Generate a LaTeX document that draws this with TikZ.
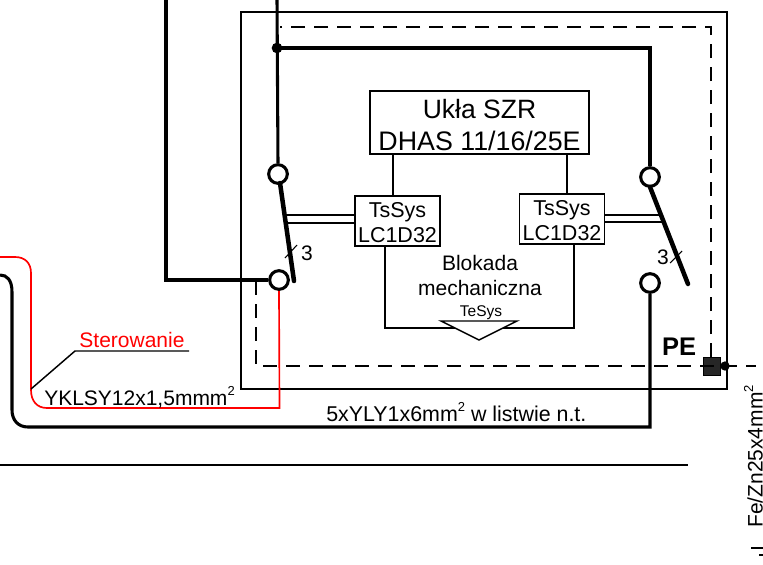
\documentclass[tikz,border=0pt]{standalone}
\usepackage{fontspec}
\setmainfont{Liberation Sans}
\newcommand{\fpx}[1]{\fontsize{\dimexpr #1pt*3/4\relax}{\dimexpr #1pt*9/10\relax}\selectfont}
\newcommand{\topstrut}{\rule{0pt}{.85em}}
\definecolor{pered}{RGB}{255,0,0}
\tikzset{
  x=0.75pt,y=-0.75pt,
  thin line/.style={line width=1.1pt,black},
  heavy line/.style={line width=2.3pt,black},
  arm line/.style={line width=3.4pt,black,line cap=round},
  red line/.style={line width=1.25pt,pered},
  pe dash/.style={line width=1.1pt,dash pattern=on 10.5pt off 6.75pt},
  terminal/.style={circle,draw=black,line width=2.3pt,fill=white,minimum size=14pt,inner sep=0pt},
  small box/.style={draw=black,line width=1.1pt,fill=white,minimum width=63.75pt,minimum height=37.5pt,inner sep=0pt,align=center,font=\fpx{21.5}},
  label/.style={inner sep=0pt,black,font=\fpx{21}},
}
\begin{document}
\begin{tikzpicture}
\useasboundingbox (0,0) rectangle (763,564);
\begin{scope}
\clip (0,0) rectangle (763,564);
% outer frame
\draw[thin line] (241,12) rectangle (727,389);
% dashed PE
\node (pesq) [draw=black,fill=black!85,line width=.5pt,minimum width=12.5pt,minimum height=13.5pt,inner sep=0pt] at (711.5,366.5) {};
\node (pedot) [circle,fill=black,minimum size=7pt,inner sep=0pt] at (725,366) {};
\coordinate (peend) at (756,366);
\draw[pe dash] (711,357) -- (711,27) -- (280,27);
\draw[pe dash] (256,281) -- (256,366) -- (peend);
% terminals
\node (t1) [terminal] at (278,174) {};
\node (t2) [terminal] at (279,280) {};
\node (t3) [terminal] at (650,177) {};
\node (t4) [terminal] at (650,283) {};
\node (jn) [circle,fill=black,minimum size=8pt,inner sep=0pt] at (277,48) {};
\coordinate (topa) at (277,0);
\coordinate (topb) at (166,0);
\draw[heavy line] (topa) -- (t1.north);
\draw[heavy line] (jn.center) -- (650,48) -- (t3.north);
\draw[heavy line] (topb) -- (166,280) -- (t2.west);
% red cable
\coordinate (redl) at (0,257);
\draw[red line] (redl) -- (15,257) .. controls (25,257) and (31,263) .. (31,273) -- (31,390) .. controls (31,401) and (37,408) .. (47,408) -- (279.5,408) -- (t2.south);
% black cable
\coordinate (blkl) at (0,275);
\draw[heavy line] (blkl) .. controls (7,275) and (12,280) .. (12,292) -- (12,410) .. controls (12,420) and (18,427) .. (28,427) -- (650,427) -- (t4.south);
% arms
\coordinate (a1) at (280,183);
\coordinate (a2) at (294,281);
\coordinate (b1) at (650,187);
\coordinate (b2) at (688,284);
\draw[arm line] (a1) -- (a2);
\draw[arm line] (b1) -- (b2);
% boxes
\node (szr) [draw=black,line width=1.1pt,fill=white,minimum width=164.25pt,minimum height=47.25pt,inner sep=0pt] at (479.5,122.5) {};
\node (szra) [inner sep=0pt,font=\fpx{26.5}] at (479.5,109) {Ukła SZR};
\node (szrb) [inner sep=0pt,font=\fpx{26.8}] at (479.5,141) {DHAS 11/16/25E};
\node (ts1) [small box] at (397.5,221) {\topstrut TsSys\\LC1D32};
\node (ts2) [small box] at (562,219) {\topstrut TsSys\\LC1D32};
\draw[thin line] (szr.south -| 393,0) -- (ts1.north -| 393,0);
\draw[thin line] (szr.south -| 567,0) -- (ts2.north -| 567,0);
% double links
\draw[thin line] (ts1.west |- 0,215) -- (286,215);
\draw[thin line] (ts1.west |- 0,223) -- (287,223);
\draw[thin line] (ts2.east |- 0,215) -- (659,215);
\draw[thin line] (ts2.east |- 0,222) -- (662,222);
% mechanical interlock
\draw[thin line] (ts1.south -| 385,0) -- (385,328) -- (574,328) -- (ts2.south -| 574,0);
\draw[thin line,fill=white] (441,321) -- (517,321) -- (479,340) -- cycle;
\node (blk) [label] at (480,263) {Blokada};
\node (mech) [label] at (480,288) {mechaniczna};
\node (tes) [inner sep=0pt,font=\fpx{15.5}] at (481,312.5) {TeSys};
% 3 marks
\draw[line width=.8pt] (285,258) -- (297,245);
\draw[line width=.8pt] (670,263) -- (682,251);
\node (n3a) [label] at (307,253) {3};
\node (n3b) [label] at (663,257) {3};
\node (pe) [inner sep=0pt,font=\fpx{25.5}\bfseries] at (679,347) {PE};
% cable labels
\coordinate (ldr) at (31,389);
\draw[line width=1.1pt] (ldr) -- (75,351) -- (189,351);
\node (ster) [inner sep=0pt,font=\fpx{21},text=pered] at (132,340) {Sterowanie};
\node (yk) [anchor=base west,label] at (44,405) {YKLSY12x1,5mmm\raisebox{.45em}{\fpx{13}2}};
\node (yl) [anchor=base west,inner sep=0pt,font=\fpx{21.4}] at (326,421) {5xYLY1x6mm\raisebox{.45em}{\fpx{13}2} w listwie n.t.};
% lower rule
\coordinate (rulea) at (0,465);
\coordinate (ruleb) at (688,465);
\draw[line width=1.4pt] (rulea) -- (ruleb);
\node (fe) [rotate=90,anchor=base west,inner sep=0pt,font=\fpx{21}] at (762.5,528) {Fe/Zn25x4mm\raisebox{.45em}{\fpx{13}2}};
\draw[line width=1.1pt] (751,548) -- (763,548);
\draw[line width=1.1pt] (759,555) -- (763,555);
\end{scope}
\end{tikzpicture}
\end{document}
